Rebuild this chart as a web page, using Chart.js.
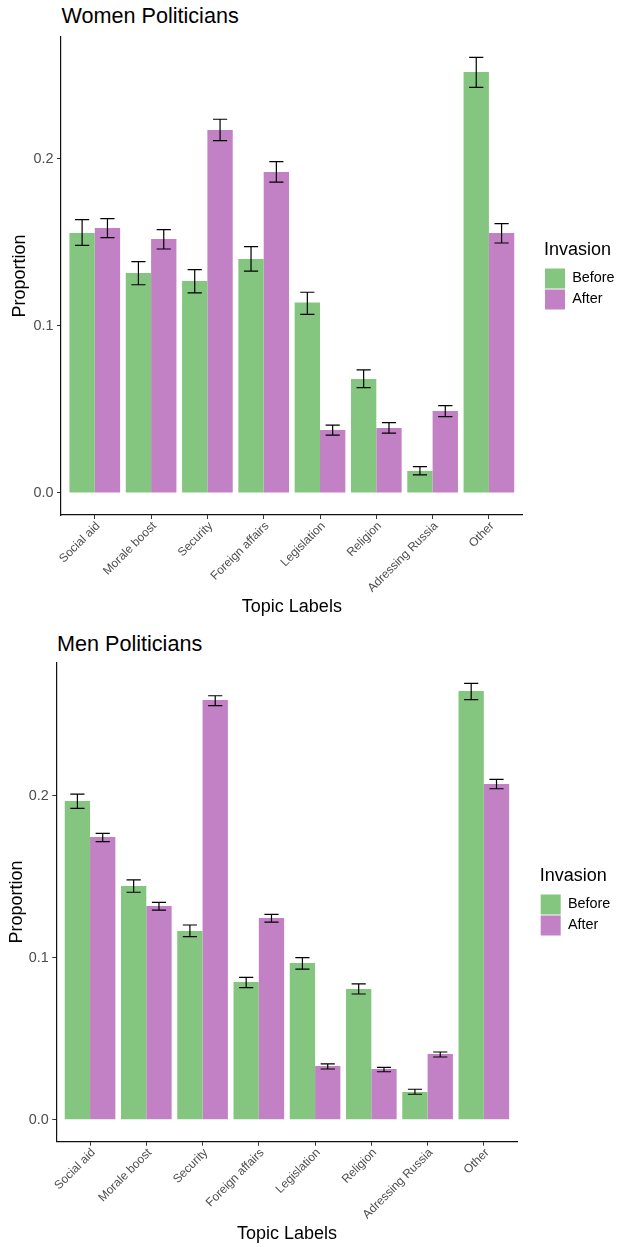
<!DOCTYPE html>
<html>
<head>
<meta charset="utf-8">
<script src="https://cdn.jsdelivr.net/npm/chart.js@4.4.1/dist/chart.umd.min.js"></script>
<style>
  html, body { margin: 0; padding: 0; background: #fff; }
  #wrap { position: relative; width: 618px; height: 1247px; background: #fff; overflow: hidden; }
  canvas { position: absolute; left: 0; }
  .ptitle { position: absolute; font-family: "Liberation Sans", Arial, sans-serif; font-size: 21.6px; line-height: 21.6px; color: #000; white-space: nowrap; }
</style>
</head>
<body>
<div id="wrap">
  <div class="ptitle" id="t1" style="left:61.5px; top:5px;">Women Politicians</div>
  <canvas id="c1" width="618" height="620" style="top:0px;"></canvas>
  <div class="ptitle" id="t2" style="left:57px; top:632.7px;">Men Politicians</div>
  <canvas id="c2" width="618" height="627" style="top:620px;"></canvas>
</div>
<script>
// ---------- DATA ----------
const categories = ['Social aid', 'Morale boost', 'Security', 'Foreign affairs', 'Legislation', 'Religion', 'Adressing Russia', 'Other'];
const seriesNames = ['Before', 'After'];
const yTicks = [0, 0.1, 0.2];
const yTickLabels = ['0.0', '0.1', '0.2'];

const womenBefore     = [0.1557, 0.1317, 0.1269, 0.1401, 0.1140, 0.0683, 0.0132, 0.2521];
const womenBeforeLow  = [0.1483, 0.1247, 0.1198, 0.1329, 0.1070, 0.0631, 0.0108, 0.2429];
const womenBeforeHigh = [0.1637, 0.1385, 0.1337, 0.1475, 0.1202, 0.0737, 0.0158, 0.2609];
const womenAfter      = [0.1587, 0.1521, 0.2174, 0.1922, 0.0377, 0.0389, 0.0491, 0.1557];
const womenAfterLow   = [0.1529, 0.1461, 0.2110, 0.1862, 0.0347, 0.0359, 0.0457, 0.1497];
const womenAfterHigh  = [0.1643, 0.1577, 0.2238, 0.1984, 0.0407, 0.0421, 0.0523, 0.1613];

const menBefore     = [0.1967, 0.1443, 0.1165, 0.0850, 0.0967, 0.0807, 0.0171, 0.2646];
const menBeforeLow  = [0.1922, 0.1404, 0.1130, 0.0815, 0.0930, 0.0776, 0.0157, 0.2593];
const menBeforeHigh = [0.2010, 0.1481, 0.1202, 0.0879, 0.1000, 0.0838, 0.0188, 0.2694];
const menAfter      = [0.1745, 0.1319, 0.2591, 0.1245, 0.0331, 0.0313, 0.0406, 0.2072];
const menAfterLow   = [0.1716, 0.1294, 0.2556, 0.1220, 0.0313, 0.0296, 0.0387, 0.2043];
const menAfterHigh  = [0.1768, 0.1342, 0.2617, 0.1268, 0.0344, 0.0323, 0.0418, 0.2101];

// ---------- STYLE ----------
const FONT = '"Liberation Sans", Arial, sans-serif';
const GREEN = '#84C680';
const PURPLE = '#C280C5';

const errorBarPlugin = {
  id: 'errorBars',
  afterDatasetsDraw(chart) {
    const ctx = chart.ctx;
    const ys = chart.scales.y;
    chart.data.datasets.forEach((ds, di) => {
      const meta = chart.getDatasetMeta(di);
      meta.data.forEach((bar, i) => {
        const lo = ys.getPixelForValue(ds.errLow[i]);
        const hi = ys.getPixelForValue(ds.errHigh[i]);
        const half = bar.width * 0.28;
        ctx.save();
        ctx.strokeStyle = '#000';
        ctx.lineWidth = 1.2;
        ctx.beginPath();
        ctx.moveTo(bar.x, lo); ctx.lineTo(bar.x, hi);
        ctx.moveTo(bar.x - half, lo); ctx.lineTo(bar.x + half, lo);
        ctx.moveTo(bar.x - half, hi); ctx.lineTo(bar.x + half, hi);
        ctx.stroke();
        ctx.restore();
      });
    });
  }
};

function toPoints(arr) { return arr.map((v, i) => ({ x: i + 1, y: v })); }

function makeChart(id, before, beforeLo, beforeHi, after, afterLo, afterHi, L) {
  return new Chart(document.getElementById(id), {
    type: 'bar',
    data: {
      datasets: [
        { label: seriesNames[0], data: toPoints(before), errLow: beforeLo, errHigh: beforeHi,
          backgroundColor: GREEN, borderWidth: 0, categoryPercentage: 0.9, barPercentage: 1.0, yAxisID: 'y', xAxisID: 'x' },
        { label: seriesNames[1], data: toPoints(after), errLow: afterLo, errHigh: afterHi,
          backgroundColor: PURPLE, borderWidth: 0, categoryPercentage: 0.9, barPercentage: 1.0, yAxisID: 'y', xAxisID: 'x' }
      ]
    },
    options: {
      responsive: false,
      animation: false,
      devicePixelRatio: 1,
      layout: { padding: { top: L.top, left: 0, right: 0, bottom: 0 } },
      plugins: {
        title: { display: false },
        tooltip: { enabled: false },
        legend: {
          display: true,
          position: 'right',
          align: 'center',
          fullSize: false,
          maxWidth: L.legendW,
          title: { display: true, position: 'start', text: 'Invasion', color: '#000', font: { family: FONT, size: 18 }, padding: { top: 0, bottom: 4.4 } },
          labels: { boxWidth: 20, boxHeight: 20, padding: 1, color: '#000', font: { family: FONT, size: 14.4 } }
        }
      },
      scales: {
        x: {
          type: 'linear',
          position: 'bottom',
          offset: false,
          min: 0.4, max: 8.6,
          afterBuildTicks: (s) => { s.ticks = categories.map((c, i) => ({ value: i + 1 })); },
          afterFit: (s) => { s.height = L.xH; },
          grid: { display: true, offset: false, drawOnChartArea: false, drawTicks: true, tickLength: 4, tickColor: '#333', tickWidth: 1 },
          border: { display: true, color: '#111', width: 1.2 },
          ticks: {
            autoSkip: false, minRotation: 45, maxRotation: 45, padding: 0, labelOffset: 3.4,
            color: '#4D4D4D', font: { family: FONT, size: 12 },
            callback: (v) => categories[Math.round(v) - 1]
          },
          title: { display: true, text: 'Topic Labels', color: '#000', font: { family: FONT, size: 18 }, padding: { top: 0, bottom: L.xTitlePad } }
        },
        y: {
          type: 'linear',
          position: 'left',
          min: L.ymin, max: L.ymax,
          afterBuildTicks: (s) => { s.ticks = yTicks.map(v => ({ value: v })); },
          afterFit: (s) => { s.width = L.yW; },
          grid: { display: true, drawOnChartArea: false, drawTicks: true, tickLength: 4, tickColor: '#333', tickWidth: 1 },
          border: { display: true, color: '#111', width: 1.2 },
          ticks: { padding: 3.5, color: '#4D4D4D', font: { family: FONT, size: 14.4 },
                   callback: (v, i) => yTickLabels[i] },
          title: { display: true, text: 'Proportion', color: '#000', font: { family: FONT, size: 18 }, padding: { top: L.yTitlePad, bottom: 0 } }
        },
        gap: {
          type: 'linear',
          position: 'right',
          display: true,
          afterFit: (s) => { s.width = L.gapW; },
          grid: { display: false },
          border: { display: false },
          ticks: { display: false }
        }
      }
    },
    plugins: [errorBarPlugin]
  });
}

makeChart('c1', womenBefore, womenBeforeLow, womenBeforeHigh, womenAfter, womenAfterLow, womenAfterHigh,
  { top: 37, xH: 105, yW: 61, gapW: 21.3, legendW: 74, ymin: -0.013174, ymax: 0.273054, xTitlePad: 2, yTitlePad: 9.7 });
makeChart('c2', menBefore, menBeforeLow, menBeforeHigh, menAfter, menAfterLow, menAfterHigh,
  { top: 42.3, xH: 105.3, yW: 56.3, gapW: 22.1, legendW: 78.3, ymin: -0.01358, ymax: 0.28235, xTitlePad: 2.2, yTitlePad: 5.8 });
</script>
</body>
</html>
